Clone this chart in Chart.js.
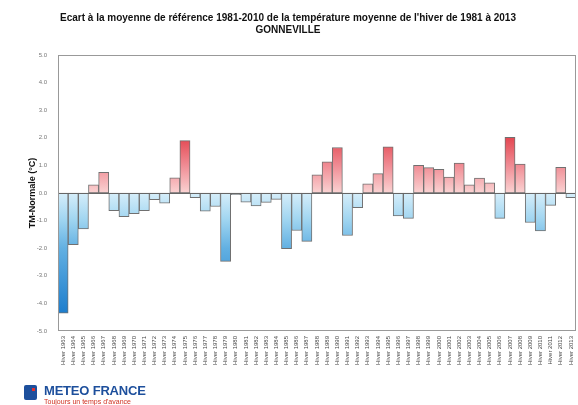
<!DOCTYPE html>
<html>
<head>
<meta charset="utf-8">
<script src="https://cdn.jsdelivr.net/npm/chart.js@4.4.0/dist/chart.umd.min.js"></script>
<style>
  body { margin: 0; background: #fff; }
  #cadre { position: relative; width: 578px; height: 405px; }
  #logo { position: absolute; left: 22px; top: 382px; font-family: "Liberation Sans", Arial, sans-serif; }
  #logo .icone { position: absolute; left: 2px; top: 3px; width: 13px; height: 15px; background: #1d4f9c; border-radius: 2px; }
  #logo .icone span { position: absolute; right: 2px; top: 3px; width: 3px; height: 3px; background: #e03030; }
  #logo .nom { position: absolute; left: 22px; top: 1px; font-size: 13px; font-weight: bold; color: #1d4f9c; white-space: nowrap; letter-spacing: -0.2px; }
  #logo .devise { position: absolute; left: 22px; top: 16px; font-size: 7px; color: #d03020; white-space: nowrap; }
</style>
</head>
<body>
<div id="cadre">
  <canvas id="plot1" width="578" height="405"></canvas>
  <div id="logo">
    <div class="icone"><span></span></div>
    <div class="nom">METEO FRANCE</div>
    <div class="devise">Toujours un temps d'avance</div>
  </div>
</div>
<script>
var annees = [];
for (var a = 1963; a <= 2013; a++) annees.push('Hiver ' + a);

var ecarts = [
  -4.35, -1.87, -1.30, 0.30, 0.75, -0.64, -0.86, -0.75, -0.64, -0.24,
  -0.37, 0.55, 1.90, -0.17, -0.66, -0.49, -2.48, -0.06, -0.33, -0.47,
  -0.34, -0.23, -2.02, -1.36, -1.75, 0.66, 1.13, 1.65, -1.54, -0.53,
  0.33, 0.70, 1.67, -0.83, -0.92, 1.00, 0.92, 0.86, 0.58, 1.08,
  0.30, 0.54, 0.37, -0.92, 2.02, 1.05, -1.07, -1.37, -0.45, 0.93,
  -0.17
];

var titre = [
  "Ecart à la moyenne de référence 1981-2010 de la température moyenne de l'hiver de 1981 à 2013",
  'GONNEVILLE'
];

var police = '"Liberation Sans", Arial, sans-serif';

function couleur_barre(ctx) {
  var chart = ctx.chart;
  var zone = chart.chartArea;
  if (!zone) return '#ccc';
  var y = chart.scales.y;
  var g = chart.ctx.createLinearGradient(0, zone.top, 0, zone.bottom);
  var f = function (v) { return (y.getPixelForValue(v) - zone.top) / (zone.bottom - zone.top); };
  g.addColorStop(0, '#d82834');
  g.addColorStop(f(2), '#e44852');
  g.addColorStop(f(1), '#f08c94');
  g.addColorStop(f(0) - 0.001, '#fad2d2');
  g.addColorStop(f(0), '#d6eefa');
  g.addColorStop(f(-1), '#9ed4f0');
  g.addColorStop(f(-2), '#62b0e2');
  g.addColorStop(f(-4.4), '#1c7ccc');
  g.addColorStop(1, '#1670c0');
  return g;
}

// ligne du zéro et cadre
var cadre_plugin = {
  id: 'cadre',
  afterDatasetsDraw: function (chart) {
    var c = chart.ctx, z = chart.chartArea;
    var y0 = chart.scales.y.getPixelForValue(0);
    c.save();
    c.strokeStyle = '#666';
    c.lineWidth = 1;
    c.beginPath();
    c.moveTo(z.left, Math.round(y0) + 0.5);
    c.lineTo(z.right, Math.round(y0) + 0.5);
    c.stroke();
    c.strokeStyle = '#999';
    c.strokeRect(z.left + 0.5, z.top + 0.5, z.right - z.left - 1, z.bottom - z.top - 1);
    c.restore();
  }
};

new Chart(document.getElementById('plot1'), {
  type: 'bar',
  data: {
    labels: annees,
    datasets: [{
      data: ecarts,
      backgroundColor: couleur_barre,
      borderColor: '#707070',
      borderWidth: 1,
      borderSkipped: false,
      barPercentage: 1,
      categoryPercentage: 1
    }]
  },
  options: {
    responsive: false,
    animation: false,
    layout: { padding: { left: 0, right: 2, top: 0, bottom: 0 } },
    plugins: {
      legend: { display: false },
      tooltip: { enabled: false },
      title: {
        display: true,
        text: titre,
        color: '#111',
        font: { family: police, size: 10, weight: 'bold' },
        padding: { top: 12, bottom: 19 }
      }
    },
    scales: {
      x: {
        grid: { display: false },
        border: { display: false },
        ticks: {
          autoSkip: false,
          minRotation: 90,
          maxRotation: 90,
          padding: -3,
          color: '#444',
          font: { family: police, size: 6 }
        },
        afterFit: function (axe) { axe.height = 74; }
      },
      y: {
        min: -5,
        max: 5,
        grid: { display: false },
        border: { display: false },
        ticks: {
          stepSize: 1,
          color: '#777',
          padding: 3,
          font: { family: police, size: 6 },
          callback: function (v) { return v.toFixed(1); }
        },
        title: {
          display: true,
          text: 'TM-Normale (°C)',
          color: '#111',
          padding: { top: 27, bottom: 0 },
          font: { family: police, size: 9, weight: 'bold' }
        },
        afterFit: function (axe) { axe.width = 58; }
      }
    }
  },
  plugins: [cadre_plugin]
});
</script>
</body>
</html>
